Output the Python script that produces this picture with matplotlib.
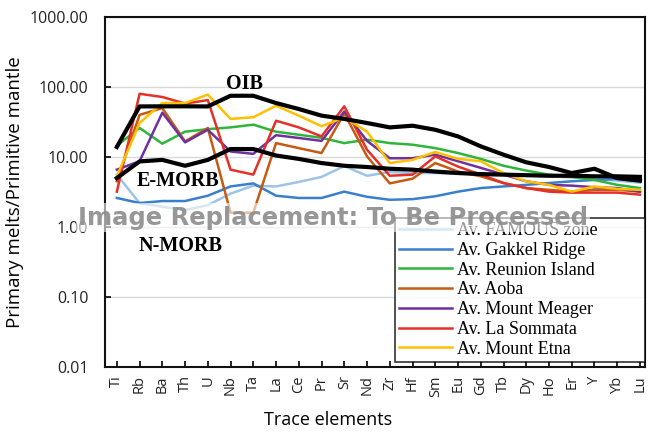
import matplotlib
matplotlib.use("Agg")
import matplotlib.pyplot as plt
from matplotlib.ticker import FixedLocator, NullLocator

elements = ["Ti", "Rb", "Ba", "Th", "U", "Nb", "Ta", "La", "Ce", "Pr", "Sr", "Nd",
            "Zr", "Hf", "Sm", "Eu", "Gd", "Tb", "Dy", "Ho", "Er", "Y", "Yb", "Lu"]

famous = [5.6, 2.2, 1.95, 1.75, 2.05, 3.0, 3.9, 3.8, 4.4, 5.2, 7.4, 5.4,
          6.1, 5.9, 5.9, 5.8, 5.7, 5.6, 5.5, 5.3, 5.1, 4.9, 4.6, 4.3]
gakkel = [2.6, 2.2, 2.35, 2.35, 2.8, 3.8, 4.2, 2.8, 2.6, 2.6, 3.2, 2.7,
          2.45, 2.5, 2.75, 3.2, 3.6, 3.8, 4.0, 4.25, 4.5, 4.7, 4.85, 4.5]
reunion = [14.5, 26, 15.5, 23, 25, 26.5, 29, 23, 20.8, 18.8, 15.8, 17.7,
           15.8, 15.0, 13.4, 11.4, 9.4, 7.5, 6.4, 5.6, 5.2, 4.7, 4.0, 3.6]
aoba = [4.5, 40, 50, 16.7, 26, 1.6, 1.6, 15.8, 13.4, 11.4, 42, 10.2,
        4.2, 4.9, 8.2, 6.2, 5.3, 4.25, 3.6, 3.4, 3.2, 3.4, 3.4, 3.2]
meager = [6.6, 8.7, 43, 16.2, 24.5, 12, 11.1, 20.5, 18.7, 17.0, 44.7, 17.0,
          9.6, 9.6, 10.8, 8.7, 7.0, 5.6, 4.5, 4.0, 3.9, 3.7, 3.6, 3.2]
sommata = [3.2, 80, 72, 58, 65, 6.6, 5.6, 33, 26.5, 19.7, 53, 12.7,
           5.4, 5.6, 10.2, 7.3, 5.6, 4.25, 3.6, 3.2, 3.1, 3.1, 3.1, 2.9]
etna = [5.3, 30.6, 59, 59, 78, 35, 37, 54, 39, 27.5, 37, 23,
        8.2, 9.1, 11.8, 9.4, 8.7, 5.9, 4.5, 4.0, 3.2, 3.8, 3.5, 3.4]
oib = [13.9, 52.8, 53, 53, 52.8, 75, 75, 59, 48.5, 39, 35, 30.6,
       26.5, 28, 24.5, 19.7, 14.2, 10.8, 8.4, 7.2, 5.9, 6.8, 5.0, 4.6]
emorb = [5.0, 8.65, 9.1, 7.5, 9.1, 13, 13, 10.5, 9.4, 8.2, 7.5, 7.2,
         6.8, 6.6, 6.2, 5.9, 5.7, 5.6, 5.5, 5.4, 5.4, 5.3, 5.3, 5.2]

series = [
    ("Av. FAMOUS zone", famous, "#9DC3E6"),
    ("Av. Gakkel Ridge", gakkel, "#3A7FCB"),
    ("Av. Reunion Island", reunion, "#2FB53A"),
    ("Av. Aoba", aoba, "#C55A11"),
    ("Av. Mount Meager", meager, "#7030A0"),
    ("Av. La Sommata", sommata, "#E5302A"),
    ("Av. Mount Etna", etna, "#FFC000"),
]

yticks = [0.01, 0.1, 1, 10, 100, 1000]

fig = plt.figure(figsize=(6.49, 4.33), dpi=100)
ax = fig.add_axes([0.1618, 0.1524, 0.832, 0.8083])

x = list(range(len(elements)))
handles = []
for name, vals, col in series:
    h, = ax.plot(x, vals, color=col, lw=1.8, label=name, zorder=3)
    handles.append(h)
ax.plot(x, oib, color="black", lw=3.0, zorder=4)
ax.plot(x, emorb, color="black", lw=3.0, zorder=4)

ax.set_yscale("log")
ax.set_ylim(0.01, 1000)
ax.set_xlim(-0.52, 23.22)
ax.yaxis.set_major_locator(FixedLocator(yticks))
ax.yaxis.set_minor_locator(NullLocator())
ax.set_yticks(yticks)
ax.set_yticklabels([f"{v:.2f}" for v in yticks], fontfamily="Open Sans", fontsize=11.5, color="#222222")
ax.set_xticks(x)
ax.set_xticklabels(elements, rotation=90, fontfamily="Open Sans", fontsize=10.5, color="#222222")
ax.tick_params(axis="both", direction="in", length=4, width=1.2)
ax.tick_params(axis="x", pad=6)
ax.tick_params(axis="y", pad=12)
ax.grid(axis="y", color="#d9d9d9", lw=1.0, zorder=0)
for s in ax.spines.values():
    s.set_linewidth(1.5)
    s.set_color("#111111")

ax.set_ylabel("Primary melts/Primitive mantle", fontfamily="Open Sans", fontsize=13.5, labelpad=4)
ax.set_xlabel("Trace elements", fontfamily="Open Sans", fontsize=13)
ax.xaxis.set_label_coords(0.413, -0.125)

tfont = dict(family="Liberation Serif", fontweight="bold", fontsize=14.5, color="black")
ax.text(5.6, 112, "OIB", ha="center", va="center", zorder=6, **tfont)
ax.text(2.7, 4.5, "E-MORB", ha="center", va="center", zorder=6, **tfont)
ax.text(2.8, 0.54, "N-MORB", ha="center", va="center", zorder=6, **tfont)

leg = ax.legend(handles=handles, loc="lower left", bbox_to_anchor=(0.537, 0.014, 0.463, 0.4),
                mode="expand",
                prop=dict(family="Liberation Serif", size=13),
                frameon=True, fancybox=False, edgecolor="black",
                borderaxespad=0.0, handlelength=2.9, handletextpad=0.3,
                labelspacing=0.15, borderpad=0.25)
leg.get_frame().set_linewidth(1.2)
leg.set_zorder(5)

fig.text(0.513, 0.497, "Image Replacement: To Be Processed", ha="center", va="center",
         fontfamily="DejaVu Sans", fontweight="bold", fontsize=17.5, color="#8c8c8c",
         alpha=0.9, zorder=10,
         bbox=dict(boxstyle="square,pad=0.1", facecolor="white", edgecolor="none", alpha=0.6))

fig.savefig("out.png", dpi=100)
